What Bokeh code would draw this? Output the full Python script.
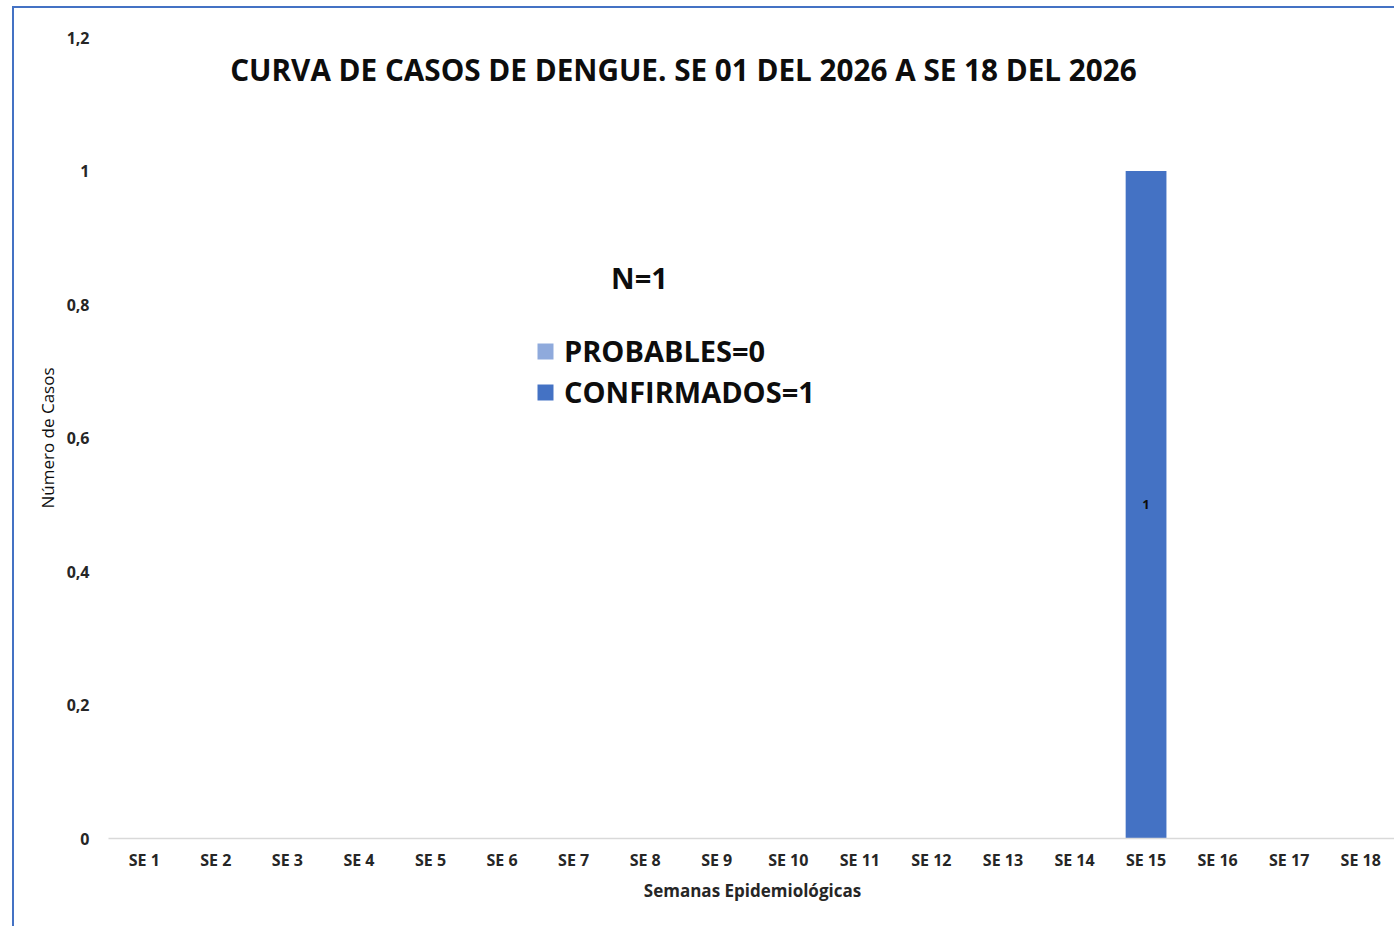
from bokeh.plotting import figure
from bokeh.models import (ColumnDataSource, FactorRange, Range1d, FixedTicker,
                          CustomJSTickFormatter, Legend, LegendItem, Label, LabelSet)
from bokeh.core.properties import value
from bokeh.embed import file_html
from bokeh.resources import INLINE

semanas = ["SE 1", "SE 2", "SE 3", "SE 4", "SE 5", "SE 6", "SE 7", "SE 8", "SE 9",
           "SE 10", "SE 11", "SE 12", "SE 13", "SE 14", "SE 15", "SE 16", "SE 17", "SE 18"]
probables = [0, 0, 0, 0, 0, 0, 0, 0, 0, 0, 0, 0, 0, 0, 0, 0, 0, 0]
confirmados = [0, 0, 0, 0, 0, 0, 0, 0, 0, 0, 0, 0, 0, 0, 1, 0, 0, 0]
y_ticks = [0, 0.2, 0.4, 0.6, 0.8, 1.0, 1.2]

titulo = "CURVA DE CASOS DE DENGUE. SE 01 DEL 2026 A SE 18 DEL 2026"
FONT = "Open Sans"
C_PROB = "#8FAADC"
C_CONF = "#4472C4"

source = ColumnDataSource(dict(semana=semanas, probables=probables, confirmados=confirmados))

p = figure(x_range=FactorRange(factors=semanas, range_padding=0),
           y_range=Range1d(0, 1.2),
           width=1382, height=920,
           output_backend="svg", toolbar_location=None,
           min_border_left=94, min_border_right=0, min_border_top=29, min_border_bottom=90)
p.margin = (6, 0, 0, 12)
p.styles = {"border-left": "2px solid #4472C4", "border-top": "2px solid #4472C4"}
p.outline_line_color = None
p.xgrid.visible = False
p.ygrid.visible = False
p.background_fill_color = "white"
p.border_fill_color = "white"

rs = p.vbar_stack(["probables", "confirmados"], x="semana", width=0.57,
                  color=[C_PROB, C_CONF], line_color=None, source=source)

# x axis
xa = p.xaxis[0]
xa.axis_line_color = "#D9D9D9"
xa.axis_line_width = 1.5
xa.major_tick_line_color = None
xa.minor_tick_line_color = None
xa.major_label_text_font = FONT
xa.major_label_text_font_style = "bold"
xa.major_label_text_font_size = "16px"
xa.major_label_text_color = "#262626"
xa.major_label_standoff = 4
xa.axis_label = "Semanas Epidemiológicas"
xa.axis_label_text_font = FONT
xa.axis_label_text_font_style = "bold"
xa.axis_label_text_font_size = "17px"
xa.axis_label_text_color = "#262626"
xa.axis_label_standoff = 5

# y axis
ya = p.yaxis[0]
ya.axis_line_color = None
ya.major_tick_line_color = None
ya.minor_tick_line_color = None
ya.ticker = FixedTicker(ticks=y_ticks)
ya.formatter = CustomJSTickFormatter(code="const s = (Math.round(tick*10)/10).toString(); return s.replace('.', ',');")
ya.major_label_text_font = FONT
ya.major_label_text_font_style = "bold"
ya.major_label_text_font_size = "16px"
ya.major_label_text_color = "#262626"
ya.major_label_standoff = 13
ya.axis_label = "Número de Casos"
ya.axis_label_text_font = FONT
ya.axis_label_text_font_style = "normal"
ya.axis_label_text_font_size = "17px"
ya.axis_label_text_color = "#0D0D0D"
ya.axis_label_standoff = 5

# title
p.add_layout(Label(x=8.035, y=1.152, text=titulo, text_align="center", text_baseline="middle",
                   text_font=FONT, text_font_size="29.7px", text_font_style="bold",
                   text_color="#0D0D0D"))

total = sum(probables) + sum(confirmados)
p.add_layout(Label(x=7.42, y=0.84, text=f"N={total}", text_align="center", text_baseline="middle",
                   text_font=FONT, text_font_size="29px", text_font_style="bold",
                   text_color="#0D0D0D"))

# bar value labels
lab_x = [s for s, c in zip(semanas, confirmados) if c > 0]
lab_y = [c / 2 for c in confirmados if c > 0]
lab_t = [str(c) for c in confirmados if c > 0]
p.add_layout(LabelSet(x="x", y="y", text="t", source=ColumnDataSource(dict(x=lab_x, y=lab_y, t=lab_t)),
                      text_align="center", text_baseline="middle",
                      text_font=value(FONT), text_font_size=value("13px"),
                      text_font_style="bold", text_color="#0D0D0D"))

legend = Legend(items=[LegendItem(label=f"PROBABLES={sum(probables)}", renderers=[rs[0]]),
                       LegendItem(label=f"CONFIRMADOS={sum(confirmados)}", renderers=[rs[1]])],
                location=(427, 427), glyph_width=20, glyph_height=20,
                label_text_font=FONT, label_text_font_size="29px", label_text_font_style="bold",
                label_text_color="#0D0D0D", label_standoff=9, spacing=2,
                padding=0, margin=0, border_line_color=None, background_fill_alpha=0)
p.add_layout(legend)

open("out.html", "w").write(file_html(p, INLINE))
